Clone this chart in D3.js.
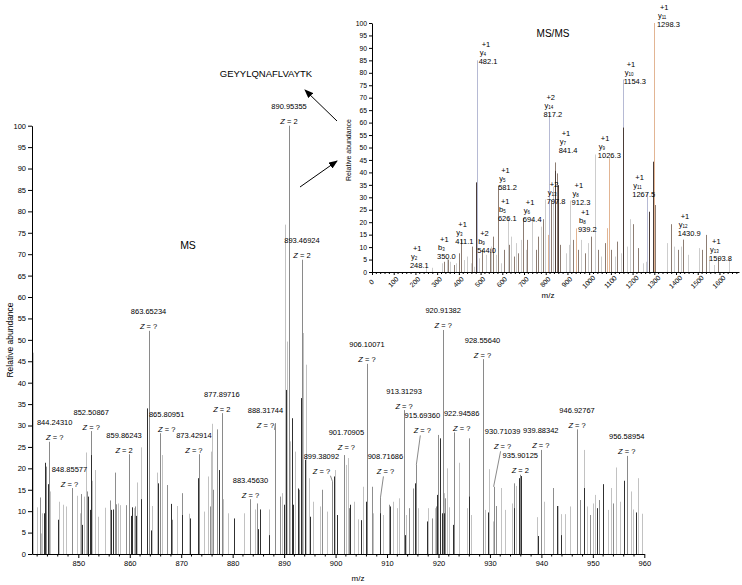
<!DOCTYPE html>
<html>
<head>
<meta charset="utf-8">
<script src="https://cdn.jsdelivr.net/npm/d3@7"></script>
<style>
body { margin: 0; background: #fff; }
svg { display: block; font-family: "Liberation Sans", Arial, sans-serif; }
</style>
</head>
<body>
<div id="chart"></div>
<script>
/* ===== MS spectrum data (m/z, relative abundance) ===== */
var msLight = [[841.2,47],[842.0,10.9],[842.7,4.8],[842.9,9.5],[844.5,14.6],[846.2,12.2],[847.0,11.5],[847.7,11.1],
	[849.7,13.6],[850.3,9.5],[851.2,13.4],[851.4,23.7],[852.7,17.1],[853.3,19.6],[853.8,8.7],[855.2,10.8],[857.7,11.8],
	[858.1,11.4],[860.8,10.7],[861.5,16.7],[862.1,24.9],[864.3,11.2],[865.2,19.0],[866.3,23.1],[869.2,11.2],[871.6,9.4],
	[873.5,10.4],[874.4,9.9],[875.3,18.1],[875.7,23.9],[876.0,30.4],[878.2,12.8],[879.1,9.5],[882.2,9.5],[884.3,10.4],
	[887.0,10.4],[889.5,14.2],[890.1,76.9],[890.6,49.6],[891.2,26.3],[892.1,23.9],[893.7,51.6],[894.3,44.2],[894.9,17.7],
	[895.6,12.2],[897.0,11.1],[898.3,9.9],[899.9,19.6],[902.0,20.8],[902.4,22.4],[903.5,12.2],[904.3,8.1],[905.3,15.7],
	[906.2,18.5],[907.3,9.5],[909.3,9.1],[911.2,12.2],[912.0,10.7],[912.4,13.0],[913.7,9.1],[916.1,10.7],[918.0,10.7],
	[919.3,10.7],[921.1,14.2],[921.6,20.0],[922.1,10.9],[924.0,21.3],[925.5,10.7],[926.3,9.1],[929.0,10.3],[929.9,19.8],
	[930.5,7.6],[932.2,15.4],[932.9,10.3],[934.2,11.8],[935.1,15.9],[939.1,8.6],[940.6,12.2],[943.3,11.2],[943.8,9.3],
	[944.6,9.3],[945.6,11.1],[947.0,9.5],[948.2,24.3],[948.8,11.1],[950.0,11.8],[950.5,13.8],[953.0,10.3],[953.5,15.4],
	[954.5,20.2],[955.2,12.2],[957.5,14.6],[957.9,10.4],[958.7,17.7],[959.6,9.4]];

var msMid = [[842.5,13.2],[843.8,20.4],[850.6,14.0],[851.6,14.6],[856.2,12.5],[857.1,19.0],[857.4,11.6],[859.2,11.4],
	[861.1,11.1],[867.3,16.1],[868.3,8.0],[870.1,14.2],[875.5,11.1],[876.2,15.0],[877.0,29.1],[884.8,11.8],[889.2,13.4],
	[892.9,15.0],[897.4,15.0],[902.6,10.7],[907.0,15.7],[910.3,11.5],[914.3,10.7],[915.0,15.3],[918.8,8.3],[919.5,11.1],
	[919.9,27.8],[920.9,11.1],[921.3,13.0],[925.9,27.0],[931.1,11.2],[934.6,16.5],[942.3,15.4],[947.5,12.6],[949.5,9.1],
	[951.1,12.6],[953.9,11.8]];

var msDark = [[841.0,11.4],[843.3,9.5],[843.5,21.3],[844.2,16.3],[846.0,8.0],[850.7,6.8],[851.8,13.4],[851.9,10.3],
	[852.2,10.3],[852.4,23.1],[856.3,10.3],[856.7,10.4],[860.2,8.9],[860.4,10.9],[861.3,8.9],[862.2,12.8],[863.4,34.0],
	[864.1,5.5],[865.4,16.5],[865.5,11.4],[868.1,11.7],[870.2,9.1],[871.8,8.3],[873.2,17.7],[877.3,19.6],[880.2,8.3],
	[885.0,5.8],[885.4,10.4],[887.1,4.4],[889.9,11.5],[890.4,38.3],[891.5,31.7],[891.7,11.5],[892.6,15.3],[893.3,36.4],
	[894.1,22.0],[895.0,8.7],[899.7,18.1],[900.2,9.1],[902.8,11.5],[905.0,7.9],[906.0,12.2],[908.6,9.5],[910.5,11.1],
	[913.5,4.4],[915.5,16.5],[917.7,7.6],[919.7,13.8],[920.2,27.0],[920.6,9.5],[921.0,9.5],[922.9,6.8],[926.0,13.4],
	[929.7,9.7],[934.7,10.7],[935.7,17.7],[936.1,18.2],[939.3,4.2],[943.0,11.2],[943.9,4.4],[948.2,15.4],[950.9,10.7],
	[952.0,16.3],[956.1,17.1],[958.4,9.7]];

// labelled precursor peaks: m/z text, abundance, charge
var msLabeled = [["844.24310",26.2,"?"],["848.85577",15.4,"?"],["852.50867",28.7,"?"],["859.86243",23.3,"2"],
	["863.65234",52.1,"?"],["865.80951",28.2,"?"],["873.42914",23.3,"?"],["877.89716",32.9,"2"],["883.45630",12.8,"?"],
	["888.31744",30.5,"?"],["890.95355",100,"2"],["893.46924",68.7,"2"],["899.38092",17,"?"],["901.70905",23.1,"?"],
	["906.10071",44.4,"?"],["908.71686",13.1,"?"],["913.31293",33.6,"?"],["915.69360",20.8,"?"],["920.91382",52.3,"?"],
	["922.94586",28.4,"?"],["928.55640",45.5,"?"],["930.71039",15.7,"?"],["935.90125",18.5,"2"],["939.88342",24.3,"?"],
	["946.92767",29.1,"?"],["956.58954",22.9,"?"]];

var msTicksX = [850,860,870,880,890,900,910,920,930,940,950,960];
var msTicksY = [0,5,10,15,20,25,30,35,40,45,50,55,60,65,70,75,80,85,90,95,100];

/* ===== MS/MS spectrum data ===== */
var inLight = [[248.1,2],[276,1.7],[322,3.5],[346,5.5],[361,4.1],[389,3.5],[423,4.8],[438,6.2],[454,3.5],[469,2.1],
	[492,5.5],[523,6.9],[546,10.2],[570,6.9],[593,3.5],[626.1,22],[642,14.2],[662,11.6],[685,12.9],[708,8.9],[739,21.2],
	[778,18.2],[797.8,29.1],[834,34.3],[894,7.5],[909,10.9],[912.3,28.7],[963,12.9],[994,11.6],[1026.3,47.2],[1056,6.2],
	[1118,6.2],[1145,7.5],[1172,10.2],[1187,21.2],[1249,3.5],[1261,4.1],[1357,11.6],[1392,10.2],[1423,10.2],[1457,6.9],
	[1504,9.6],[1550,6.2],[1573,2.8],[1643,5.5]];
var inBrown = [[330,4.1],[350,5],[377,2.8],[400,7.5],[411.1,13],[461,10.2],[508,8.9],[544,9.4],[559,14.2],[581.2,34.5],
	[608,8.9],[631,10.9],[654,6.2],[673,7.5],[694.4,21.7],[716,12.9],[755,8.9],[766,14.2],[789,21.2],[824,28.9],[841.4,44],
	[852,39.6],[868,10.9],[925,12.9],[948,8.9],[979,7.5],[1010,14.2],[1041,8.9],[1071,11.6],[1102,8.9],[1130,12.2],
	[1203,19.2],[1226,9.6],[1303,26.9],[1377,19.2],[1408,8.9],[1430.9,13],[1519,8.9],[1539,14.9],[1593.8,5.6]];
var inDark = [[478,36],[843,40.6],[858,34.9],[1156,58],[1274,24.2],[1295,44.3]];
var inBlue = [[482.1,85],[817.2,63.7],[1154.3,77.3],[1267.5,31.9]];
var inOrange = [[812,14.9],[939.2,17.5],[1084,17.6],[1090,45.7],[1298.3,100]];

// fragment ion annotations: m/z, label level, ion type, ion number, charge
var inLabels = [[248.1,3.2,"y","2","+1"],[350.0,7,"b","3","+1"],[411.1,13,"y","3","+1"],[544.0,9.4,"b","9","+2"],
	[482.1,85,"y","4","+1"],[581.2,34.5,"y","5","+1"],[626.1,22,"b","5","+1"],[694.4,21.7,"y","6","+1"],
	[797.8,29.1,"y","13","+2"],[817.2,63.7,"y","14","+2"],[841.4,49.5,"y","7","+1"],[912.3,28.7,"y","8","+1"],
	[939.2,17.5,"b","8","+1"],[1026.3,47.2,"y","9","+1"],[1154.3,77.3,"y","10","+1"],[1267.5,31.9,"y","11","+1"],
	[1298.3,100,"y","11","+1"],[1430.9,15.9,"y","12","+1"],[1593.8,5.9,"y","13","+1"]];

var inTicksX = [0,100,200,300,400,500,600,700,800,900,1000,1100,1200,1300,1400,1500,1600];
var inTicksY = [0,5,10,15,20,25,30,35,40,45,50,55,60,65,70,75,80,85,90,95,100];

/* ===== layout ===== */
var svg = d3.select('#chart').append('svg')
	.attr('width', 742)
	.attr('height', 585);

svg.append('rect').attr('width', 742).attr('height', 585).attr('fill', '#fff');

var x = d3.scaleLinear().domain([841, 960]).range([32, 644.3]);
var y = d3.scaleLinear().domain([0, 100]).range([554, 125.7]);

var xi = d3.scaleLinear().domain([0, 1690]).range([372, 739]);
var yi = d3.scaleLinear().domain([0, 100]).range([272, 23]);

// label nudges for crowded annotations (pixels: dx, lift)
var labelShift = {"844.24310": [6, 0], "848.85577": [-3, 0], "859.86243": [-5, 0], "865.80951": [7, 0],
	"873.42914": [-5, 0], "888.31744": [-10, -6], "899.38092": [-11, 6], "901.70905": [2, 4], "908.71686": [5, 22],
	"915.69360": [6, 30], "922.94586": [8, 0], "930.71039": [9, 36]};
var ionDx = {"248.1": -16, "350": -11, "411.1": -6, "544": -13, "482.1": 2, "581.2": 0, "626.1": -10, "694.4": 0,
	"797.8": 1.5, "817.2": -6, "841.4": 4, "912.3": 1.5, "939.2": 2, "1026.3": 3, "1154.3": 1, "1267.5": -15,
	"1298.3": 3, "1430.9": -5, "1593.8": -9};

function drawPeaks(g, data, xs, ys, color) {
	g.append('g')
		.selectAll('line')
		.data(data)
		.enter()
		.append('line')
		.attr('x1', function(d) { return Math.round(xs(d[0])) + 0.5; })
		.attr('x2', function(d) { return Math.round(xs(d[0])) + 0.5; })
		.attr('y1', ys(0))
		.attr('y2', function(d) { return ys(d[1]); })
		.attr('stroke', color)
		.attr('stroke-width', 1);
}

function styleAxis(g, size) {
	g.selectAll('text').style('font-size', size).attr('fill', '#000').style('font-family', '"Liberation Sans", Arial, sans-serif');
	g.selectAll('line, path').attr('stroke', '#000');
}

/* ----- main MS spectrum ----- */
var gMain = svg.append('g');

drawPeaks(gMain, msLight, x, y, '#c2c2c2');
drawPeaks(gMain, msLabeled.map(function(d) { return [+d[0], d[1]]; }), x, y, '#8a8a8a');
drawPeaks(gMain, msMid, x, y, '#8e8e8e');
drawPeaks(gMain, msDark, x, y, '#303030');

gMain.append('g')
	.attr('transform', 'translate(32,0)')
	.call(d3.axisLeft(y).tickValues(msTicksY).tickSize(4).tickSizeOuter(0).tickPadding(2))
	.call(styleAxis, '7.5px');

gMain.append('g')
	.attr('transform', 'translate(0,554)')
	.call(d3.axisBottom(x).tickValues(msTicksX).tickSize(4).tickSizeOuter(0).tickPadding(3))
	.call(styleAxis, '7.5px');

gMain.append('g').selectAll('line')
	.data(d3.range(842, 960, 2).filter(function(v) { return v % 10 !== 0; }))
	.enter().append('line')
	.attr('x1', function(d) { return x(d); })
	.attr('x2', function(d) { return x(d); })
	.attr('y1', 554).attr('y2', 556.5)
	.attr('stroke', '#000');

msLabeled.forEach(function(d) {
	var px = x(+d[0]), top = y(d[1]);
	var s = labelShift[d[0]] || [0, 0];
	var lx = px + s[0], zy = top - 1.5 - s[1];
	if (Math.abs(s[0]) > 8 || s[1] > 5) {
		gMain.append('line')
			.attr('x1', lx + (s[0] < 0 ? 9 : -2)).attr('y1', zy + 2)
			.attr('x2', px).attr('y2', top)
			.attr('stroke', '#8a8a8a');
	}
	var t = gMain.append('text')
		.attr('x', lx).attr('y', zy)
		.attr('text-anchor', 'middle')
		.style('font-size', '7.5px');
	t.append('tspan').style('font-style', 'italic').text('Z');
	t.append('tspan').text(' = ' + d[2]);
	gMain.append('text')
		.attr('x', lx).attr('y', zy - 15)
		.attr('text-anchor', 'middle')
		.style('font-size', '7.5px')
		.text(d[0]);
});

svg.append('text')
	.attr('transform', 'translate(13,340) rotate(-90)')
	.attr('text-anchor', 'middle')
	.style('font-size', '8.5px')
	.text('Relative abundance');

svg.append('text')
	.attr('x', 358).attr('y', 581)
	.attr('text-anchor', 'middle')
	.style('font-size', '8px')
	.text('m/z');

svg.append('text')
	.attr('x', 188).attr('y', 249)
	.attr('text-anchor', 'middle')
	.style('font-size', '10.5px')
	.text('MS');

svg.append('text')
	.attr('x', 266).attr('y', 77)
	.attr('text-anchor', 'middle')
	.style('font-size', '9.5px')
	.text('GEYYLQNAFLVAYTK');

// arrows
svg.append('defs').append('marker')
	.attr('id', 'arrow')
	.attr('markerUnits', 'userSpaceOnUse')
	.attr('markerWidth', 9).attr('markerHeight', 7)
	.attr('refX', 8).attr('refY', 3.5)
	.attr('orient', 'auto')
	.append('path')
	.attr('d', 'M0,0 L9,3.5 L0,7 z')
	.attr('fill', '#000');

svg.append('line').attr('x1', 337).attr('y1', 121).attr('x2', 305).attr('y2', 90)
	.attr('stroke', '#000').attr('stroke-width', 1).attr('marker-end', 'url(#arrow)');
svg.append('line').attr('x1', 300).attr('y1', 187).attr('x2', 337).attr('y2', 161)
	.attr('stroke', '#000').attr('stroke-width', 1).attr('marker-end', 'url(#arrow)');

/* ----- inset MS/MS spectrum ----- */
var gIn = svg.append('g');

drawPeaks(gIn, inLight, xi, yi, '#cdcdcd');
drawPeaks(gIn, inBlue, xi, yi, '#b6bad4');
drawPeaks(gIn, inOrange, xi, yi, '#e2b594');
drawPeaks(gIn, inBrown, xi, yi, '#8d7d73');
drawPeaks(gIn, inDark, xi, yi, '#4b3d38');

gIn.append('g')
	.attr('transform', 'translate(372,0)')
	.call(d3.axisLeft(yi).tickValues(inTicksY).tickSize(3).tickSizeOuter(0).tickPadding(2))
	.call(styleAxis, '6.8px');

var xAxisIn = gIn.append('g')
	.attr('transform', 'translate(0,272)')
	.call(d3.axisBottom(xi).tickValues(inTicksX).tickFormat(d3.format('d')).tickSize(3).tickSizeOuter(0))
	.call(styleAxis, '6.8px');

xAxisIn.selectAll('text')
	.attr('y', 0).attr('dy', '0.35em')
	.attr('text-anchor', 'middle')
	.attr('transform', 'translate(-1,10) rotate(-45)');

gIn.append('g').selectAll('line')
	.data(d3.range(20, 1690, 20).filter(function(v) { return v % 100 !== 0; }))
	.enter().append('line')
	.attr('x1', function(d) { return xi(d); })
	.attr('x2', function(d) { return xi(d); })
	.attr('y1', 272).attr('y2', 274)
	.attr('stroke', '#000');

inLabels.forEach(function(d) {
	var px = xi(d[0]) + (ionDx[String(d[0])] || 0), top = yi(d[1]);
	gIn.append('text')
		.attr('x', px + 3).attr('y', top - 13)
		.style('font-size', '7.5px')
		.text(d[4]);
	var t = gIn.append('text')
		.attr('x', px + 1).attr('y', top - 5)
		.style('font-size', '7.5px');
	t.append('tspan').text(d[2]);
	t.append('tspan').attr('dy', 1).style('font-size', '4.5px').text(d[3]);
	gIn.append('text')
		.attr('x', px).attr('y', top + 4)
		.style('font-size', '7.5px')
		.text(d3.format('.1f')(d[0]));
});

svg.append('text')
	.attr('transform', 'translate(350.5,150) rotate(-90)')
	.attr('text-anchor', 'middle')
	.style('font-size', '7px')
	.text('Relative abundance');

svg.append('text')
	.attr('x', 548).attr('y', 298)
	.attr('text-anchor', 'middle')
	.style('font-size', '8px')
	.text('m/z');

svg.append('text')
	.attr('x', 553).attr('y', 37)
	.attr('text-anchor', 'middle')
	.style('font-size', '10px')
	.text('MS/MS');
</script>
</body>
</html>
